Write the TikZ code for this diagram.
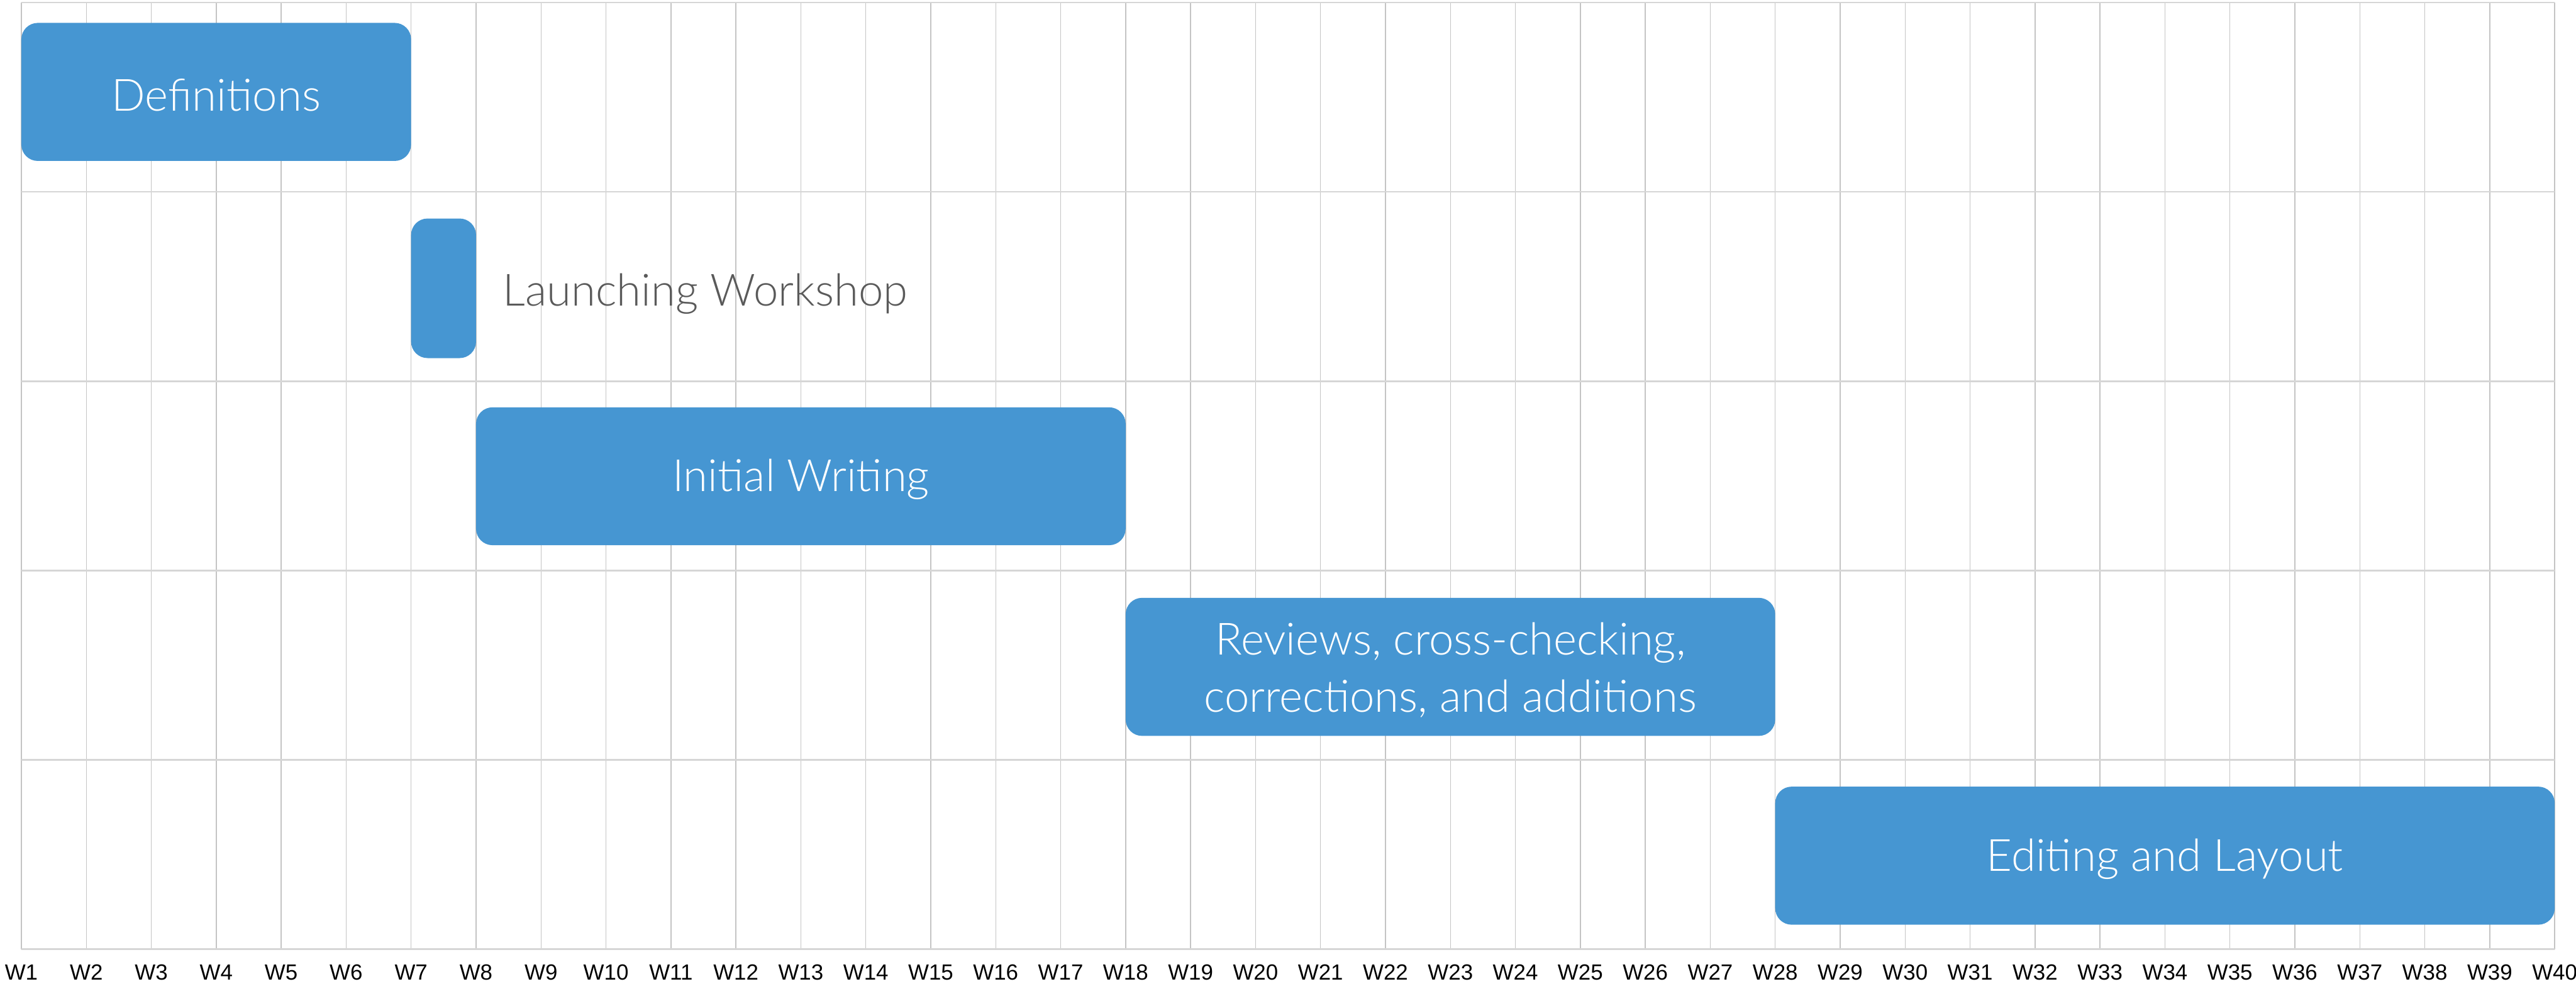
\documentclass[tikz,border=0pt]{standalone}
\usepackage{fontspec}
\setmainfont{Liberation Sans}
\newfontfamily\lightfont{Lato Light}
\usetikzlibrary{fit,positioning}

\definecolor{barblue}{RGB}{70,150,210}
\definecolor{gridgray}{RGB}{196,196,196}
\definecolor{rowgray}{RGB}{214,214,214}
\definecolor{notegray}{RGB}{90,90,90}

\tikzset{
  bar/.style={fill=barblue,rounded corners=1mm,inner sep=0pt},
  bartext/.style={inner sep=0pt,text=white,align=center,yshift=-0.2mm,
    font=\lightfont\fontsize{7.7}{10}\selectfont},
  note/.style={inner sep=0pt,anchor=west,text=notegray,yshift=-0.35mm,
    font=\lightfont\fontsize{7.7}{10}\selectfont},
  week/.style={inner sep=0pt,font=\fontsize{3.8}{4}\selectfont},
  vline/.style={gridgray,line width=0.15pt},
  hline/.style={rowgray,line width=0.3pt}
}

\begin{document}
\begin{tikzpicture}[x=3.954mm,y=11.53mm]
\useasboundingbox (-0.3288,-0.182) rectangle (39.328,5.013);

% week columns and labels
\foreach \w in {1,...,40} {
  \draw[vline] (\w-1,0) -- (\w-1,5);
  \node[week] (w\w) at (\w-1,-0.121) {W\w};
}
% row lines
\foreach \r in {0,...,5}
  \draw[hline] (0,\r) -- (39,\r);

% tasks
\node[bar,fit={(0,4.163) (6,4.892)}] (defs) {};
\node[bartext] (defstxt) at (defs.center) {Definitions};
\node[bar,fit={(6,3.122) (7,3.859)}] (launch) {};
\node[note,right=1.5mm of launch] (launchtxt) {Launching Workshop};
\node[bar,fit={(7,2.134) (17,2.862)}] (writing) {};
\node[bartext] (writingtxt) at (writing.center) {Initial Writing};
\node[bar,fit={(17,1.127) (27,1.856)}] (reviews) {};
\node[bartext] (reviewstxt) at (reviews.center)
  {Reviews, cross-checking,\\corrections, and additions};
\node[bar,fit={(27,0.130) (39,0.859)}] (editing) {};
\node[bartext] (editingtxt) at (editing.center) {Editing and Layout};
\end{tikzpicture}
\end{document}
